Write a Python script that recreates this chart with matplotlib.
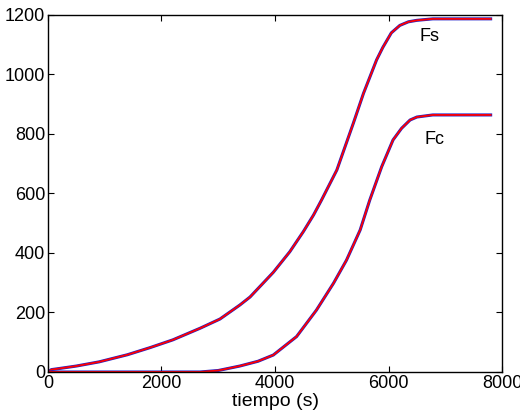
import matplotlib
matplotlib.use('Agg')
import matplotlib.pyplot as plt

# values
tiempo_fs = [0, 60, 210, 500, 900, 1400, 1800, 2200, 2680, 3030, 3380,
             3560, 3970, 4260, 4500, 4680, 4820, 5090, 5380, 5560, 5790,
             5900, 6050, 6200, 6350, 6500, 6780, 7800]
fs = [0, 8, 12, 20, 34, 58, 82, 108, 147, 178, 225,
      252, 335, 404, 472, 528, 578, 679, 836, 937, 1049,
      1091, 1140, 1165, 1177, 1182, 1187, 1187]

tiempo_fc = [0, 2680, 3000, 3380, 3700, 3970, 4380, 4730, 5030, 5260,
             5500, 5670, 5880, 6080, 6230, 6380, 6500, 6780, 7800]
fc = [0, 0, 5, 20, 36, 57, 119, 208, 298, 376,
      477, 578, 690, 780, 819, 847, 857, 864, 864]

etiquetas = [('Fs', 6540, 1126), ('Fc', 6640, 780)]

plt.rcParams['font.family'] = ['Liberation Sans', 'DejaVu Sans']

fig = plt.figure(figsize=(5.2, 4.16), dpi=100)
ax = fig.add_axes([0.0923, 0.1058, 0.8731, 0.8582])

for t, v in [(tiempo_fs, fs), (tiempo_fc, fc)]:
    ax.plot(t, v, color='#2020c8', linewidth=2.2)
    ax.plot(t, v, color='#ff0000', linewidth=1.3)

for txt, x, y in etiquetas:
    ax.text(x, y, txt, fontsize=13, va='center', ha='left')

ax.set_xlim(0, 8000)
ax.set_ylim(0, 1200)
ax.set_xticks([0, 2000, 4000, 6000, 8000])
ax.set_yticks([0, 200, 400, 600, 800, 1000, 1200])
ax.tick_params(direction='in', length=4, width=0.8, top=True, right=True,
               labelsize=13, pad=2)
for s in ax.spines.values():
    s.set_linewidth(1.0)
ax.set_xlabel('tiempo (s)', fontsize=14, labelpad=1)

fig.savefig('out.png', dpi=100)
